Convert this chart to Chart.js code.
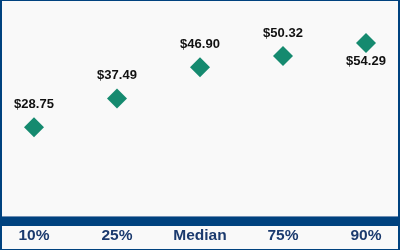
<!DOCTYPE html>
<html>
<head>
<meta charset="utf-8">
<script src="https://cdn.jsdelivr.net/npm/chart.js@4.4.1/dist/chart.umd.min.js"></script>
<style>
  html, body { margin: 0; padding: 0; background: #f9f9f9; }
  #wrap { width: 400px; height: 250px; position: relative; }
</style>
</head>
<body>
<div id="wrap"><canvas id="chart" width="400" height="250"></canvas></div>
<script>
const categories = ['10%', '25%', 'Median', '75%', '90%'];
const values = [28.75, 37.49, 46.90, 50.32, 54.29];

const navy = '#00427f';
const teal = '#158a6f';

// background, frame and the thick base bar
const framePlugin = {
    id: 'frame',
    beforeDraw(chart) {
        const c = chart.ctx;
        c.save();
        c.fillStyle = '#f9f9f9';
        c.fillRect(0, 0, chart.width, chart.height);
        c.restore();
    },
    afterDraw(chart) {
        const c = chart.ctx;
        const w = chart.width, h = chart.height;
        const y0 = chart.scales.y.getPixelForValue(0);
        c.save();
        c.fillStyle = '#6f8fb3';
        c.fillRect(0, Math.round(y0) - 6, w, 1);
        c.fillStyle = navy;
        c.fillRect(0, Math.round(y0) - 5, w, 9);
        c.fillRect(0, 0, 2, h);
        c.fillRect(0, 0, w, 1);
        c.fillRect(w - 2, 0, 2, h);
        c.fillRect(0, h - 1, w, 1);
        c.restore();
    }
};

// price labels over (or under, when there is no room) each point
const valueLabels = {
    id: 'valueLabels',
    afterDatasetsDraw(chart) {
        const c = chart.ctx;
        const meta = chart.getDatasetMeta(0);
        c.save();
        c.font = 'bold 13px "Liberation Sans", Arial, sans-serif';
        c.fillStyle = '#111';
        c.textAlign = 'center';
        c.textBaseline = 'middle';
        meta.data.forEach((pt, i) => {
            let y = pt.y - 23;
            if (y < 28) y = pt.y + 19;
            c.fillText('$' + values[i].toFixed(2), pt.x, y);
        });
        c.restore();
    }
};

new Chart(document.getElementById('chart').getContext('2d'), {
    type: 'line',
    data: {
        labels: categories,
        datasets: [{
            data: values,
            showLine: false,
            pointStyle: 'rectRot',
            pointRadius: 10,
            pointHoverRadius: 10,
            pointBackgroundColor: teal,
            pointBorderColor: teal,
            pointBorderWidth: 0
        }]
    },
    options: {
        responsive: false,
        animation: false,
        events: [],
        layout: {
            padding: { left: 34, right: 34, top: 24, bottom: 1 }
        },
        plugins: {
            legend: { display: false },
            tooltip: { enabled: false }
        },
        scales: {
            x: {
                offset: false,
                grid: { display: false, drawTicks: false },
                border: { display: false },
                ticks: {
                    padding: 4,
                    color: '#1b3a6e',
                    font: { family: '"Liberation Sans", Arial, sans-serif', size: 15.5, weight: 'bold' }
                }
            },
            y: {
                display: false,
                min: 0,
                max: 60
            }
        }
    },
    plugins: [framePlugin, valueLabels]
});
</script>
</body>
</html>
